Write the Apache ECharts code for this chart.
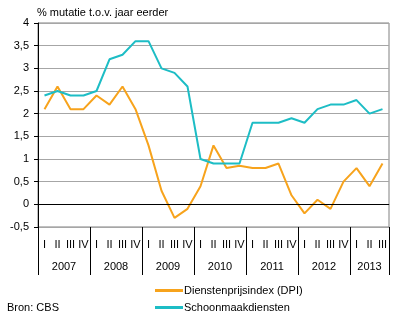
<!DOCTYPE html>
<html><head><meta charset="utf-8">
<script src="https://cdn.jsdelivr.net/npm/echarts@6/dist/echarts.min.js"></script>
<style>html,body{margin:0;padding:0;background:#fff}#c{width:396px;height:322px}</style>
</head><body><div id="c"></div>
<script>
const quarters = ['I','II','III','IV','I','II','III','IV','I','II','III','IV','I','II','III','IV','I','II','III','IV','I','II','III','IV','I','II','III'];
const years = ['2007','2008','2009','2010','2011','2012','2013'];
const yearStarts = [0,4,8,12,16,20,24,27];
const yearCenters = [2,6,10,14,18,22,25.5];
const dpi = [2.1,2.6,2.1,2.1,2.4,2.2,2.6,2.1,1.3,0.3,-0.3,-0.1,0.4,1.3,0.8,0.85,0.8,0.8,0.9,0.2,-0.2,0.1,-0.1,0.5,0.8,0.4,0.9];
const schoon = [2.4,2.5,2.4,2.4,2.5,3.2,3.3,3.6,3.6,3.0,2.9,2.6,1.0,0.9,0.9,0.9,1.8,1.8,1.8,1.9,1.8,2.1,2.2,2.2,2.3,2.0,2.1];
const yTicks = {min:-0.5, max:4, interval:0.5};

const FONT = 'Liberation Sans, Arial, sans-serif';
const chart = echarts.init(document.getElementById('c'), null, {renderer:'canvas'});
chart.setOption({
  animation:false,
  title:[
    {text:'% mutatie t.o.v. jaar eerder', left:37, top:7, padding:0, textStyle:{fontFamily:FONT,fontSize:11,fontWeight:'normal',color:'#000'}},
    {text:'Bron: CBS', left:7, top:302, padding:0, textStyle:{fontFamily:FONT,fontSize:11,fontWeight:'normal',color:'#000'}}
  ],
  legend:{
    orient:'vertical', left:155, top:285, padding:0, itemWidth:28, itemHeight:3, itemGap:6, icon:'rect',
    textStyle:{fontFamily:FONT,fontSize:11,color:'#000',padding:[0,0,0,-4]},
    data:['Dienstenprijsindex (DPI)','Schoonmaakdiensten']
  },
  grid:{left:38, right:7, top:23, bottom:95, show:true, borderColor:'#808080', borderWidth:1},
  xAxis:[
    {type:'category', data:quarters, boundaryGap:true,
     axisLine:{show:true, lineStyle:{color:'#808080'}}, axisTick:{show:false},
     axisLabel:{interval:0, margin:12, fontFamily:FONT, fontSize:11, color:'#000'}, splitLine:{show:false}},
    {type:'value', min:0, max:27, position:'bottom', 
     axisLine:{show:false}, splitLine:{show:false},
     axisTick:{show:true, customValues:yearStarts, length:48, lineStyle:{color:'#000'}},
     axisLabel:{show:true, customValues:yearCenters, margin:34, fontFamily:FONT, fontSize:11, color:'#000',
       formatter:function(v){ const i = yearCenters.indexOf(v); return i>=0 ? years[i] : ''; }}}
  ],
  yAxis:{type:'value', min:yTicks.min, max:yTicks.max, interval:yTicks.interval,
    axisLine:{show:true, lineStyle:{color:'#000'}},
    axisTick:{show:true, length:4, lineStyle:{color:'#000'}},
    axisLabel:{margin:9, fontFamily:FONT, fontSize:11, color:'#000', formatter:function(v){return String(v).replace('.',',');}},
    splitLine:{show:true, lineStyle:{color:'#a6a6a6', width:1}}},
  series:[
    {name:'Dienstenprijsindex (DPI)', type:'line', data:dpi, xAxisIndex:0, symbol:'none', lineStyle:{color:'#f7a31c', width:2}, itemStyle:{color:'#f7a31c'},
     markLine:{silent:true, symbol:'none', label:{show:false}, lineStyle:{color:'#000', width:1, type:'solid'}, data:[{yAxis:0}]}},
    {name:'Schoonmaakdiensten', type:'line', data:schoon, xAxisIndex:0, symbol:'none', lineStyle:{color:'#1dbdc5', width:2}, itemStyle:{color:'#1dbdc5'}}
  ]
});
</script></body></html>
